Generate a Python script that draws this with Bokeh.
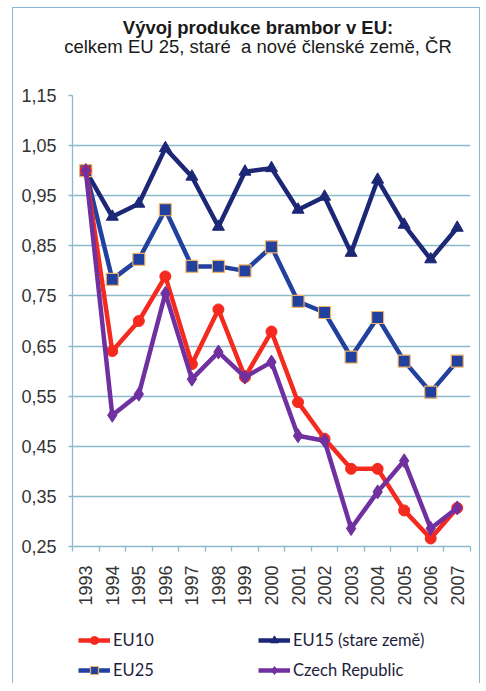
import math
from bokeh.plotting import figure
from bokeh.layouts import column
from bokeh.models import (FixedTicker, CustomJSTickFormatter, Div, Legend,
                          LegendItem, Range1d)
from bokeh.embed import file_html
from bokeh.resources import INLINE

# ---- data ----
years = [1993, 1994, 1995, 1996, 1997, 1998, 1999, 2000,
         2001, 2002, 2003, 2004, 2005, 2006, 2007]
eu10 = [1.000, 0.640, 0.700, 0.789, 0.614, 0.723, 0.588, 0.679,
        0.538, 0.465, 0.405, 0.405, 0.322, 0.266, 0.327]
eu15 = [1.000, 0.908, 0.934, 1.045, 0.988, 0.888, 0.998, 1.005,
        0.922, 0.948, 0.836, 0.982, 0.892, 0.823, 0.886]
eu25 = [1.000, 0.783, 0.823, 0.922, 0.809, 0.809, 0.800, 0.848,
        0.739, 0.717, 0.628, 0.707, 0.620, 0.558, 0.620]
czech = [1.000, 0.512, 0.554, 0.755, 0.584, 0.638, 0.588, 0.618,
         0.471, 0.461, 0.286, 0.359, 0.421, 0.286, 0.327]
y_ticks = [0.25, 0.35, 0.45, 0.55, 0.65, 0.75, 0.85, 0.95, 1.05, 1.15]
labels = ["EU10", "EU15 (stare země)", "EU25", "Czech Republic"]
title_1 = "Vývoj produkce brambor v EU:"
title_2 = "celkem EU 25, staré&nbsp; a nové členské země, ČR"

C10 = "#F52A1E"
C15 = "#1C2776"
C25 = "#22409E"
CCZ = "#7030A0"
C25_EDGE = "#F2B266"
GRID = "#8DB9CC"
TXT = "#333333"
FRAME = "#8AB6D6"

W = 466

# ---------------- header with the two title lines ----------------
line_css = ("position:absolute;left:0;width:490px;text-align:center;"
            "font-family:'Liberation Sans',Arial,sans-serif;font-size:18.5px;"
            "line-height:20px;color:#1A1A1A;white-space:nowrap;")
head = Div(text=(
    '<div style="position:relative;width:%dpx;height:75px;">' % W
    + '<div style="%stop:10px;font-weight:bold;">%s</div>' % (line_css, title_1)
    + '<div style="%stop:29px;font-weight:normal;">%s</div>' % (line_css, title_2)
    + '</div>'), width=W, height=75, margin=0)

# ---------------- main chart ----------------
p = figure(width=W, height=525,
           x_range=Range1d(years[0] - 0.5, years[-1] + 0.5),
           y_range=Range1d(y_ticks[0], y_ticks[-1]),
           output_backend="svg", toolbar_location=None,
           min_border_left=59, min_border_right=9,
           min_border_top=12, min_border_bottom=60)
p.outline_line_color = None

p.xgrid.visible = False
p.ygrid.grid_line_color = GRID
p.ygrid.grid_line_width = 1.3

p.xaxis.ticker = FixedTicker(ticks=years,
                             minor_ticks=[y - 0.5 for y in years] + [years[-1] + 0.5])
p.xaxis.formatter = CustomJSTickFormatter(code="return tick.toFixed(0)")
p.xaxis.major_label_orientation = math.pi / 2
p.xaxis.major_tick_line_color = None
p.xaxis.minor_tick_line_color = GRID
p.xaxis.minor_tick_line_width = 1.3
p.xaxis.minor_tick_out = 5
p.xaxis.minor_tick_in = 0
p.xaxis.major_label_standoff = 13

p.yaxis.ticker = FixedTicker(ticks=y_ticks, minor_ticks=[])
p.yaxis.formatter = CustomJSTickFormatter(code="return tick.toFixed(2).replace('.', ',')")
p.yaxis.major_tick_out = 4
p.yaxis.major_tick_in = 0
p.yaxis.major_tick_line_color = GRID
p.yaxis.major_tick_line_width = 1.3
p.yaxis.major_label_standoff = 12

for ax in (p.xaxis, p.yaxis):
    ax.axis_line_color = GRID
    ax.axis_line_width = 1.3
    ax.major_label_text_font = "Liberation Sans"
    ax.major_label_text_font_size = "18px"
    ax.major_label_text_color = TXT

STY = {
    "EU15": dict(line=dict(line_color=C15, line_width=4.5),
                 mark=dict(marker="triangle", size=12, fill_color=C15, line_color=C15)),
    "EU25": dict(line=dict(line_color=C25, line_width=4.5),
                 mark=dict(marker="square", size=12, fill_color=C25,
                           line_color=C25_EDGE, line_width=1.2)),
    "EU10": dict(line=dict(line_color=C10, line_width=4.5),
                 mark=dict(marker="circle", size=11, fill_color=C10, line_color=C10)),
    "CZ": dict(line=dict(line_color=CCZ, line_width=4.5),
               mark=dict(marker="diamond", size=14, fill_color=CCZ, line_color=CCZ)),
}
series = [("EU15", eu15), ("EU25", eu25), ("EU10", eu10), ("CZ", czech)]
for key, vals in series:
    p.line(years, vals, **STY[key]["line"])
    p.scatter(years, vals, **STY[key]["mark"])

# ---------------- legend strip ----------------
# the same series are plotted here outside the visible range; only their
# legend samples show
lg = figure(width=W, height=75, output_backend="svg", toolbar_location=None,
            x_axis_type=None, y_axis_type=None,
            x_range=Range1d(0, 1), y_range=Range1d(0, 1),
            min_border_left=0, min_border_right=0,
            min_border_top=0, min_border_bottom=0)
lg.grid.visible = False
lg.outline_line_color = None
rend = {}
for key, vals in series:
    rl = lg.line(years, vals, **STY[key]["line"])
    rm = lg.scatter(years, vals, **STY[key]["mark"])
    rend[key] = [rl, rm]

def make_legend(items, loc):
    return Legend(items=items, location=loc, orientation="vertical",
                  padding=0, margin=0, spacing=10,
                  glyph_width=32, glyph_height=20, label_height=20,
                  label_standoff=3, label_text_font="Lato",
                  label_text_font_size="16.5px", label_text_color="#1E1E3C",
                  border_line_color=None, background_fill_alpha=0)

lg.add_layout(make_legend([LegendItem(label=labels[0], renderers=rend["EU10"]),
                           LegendItem(label=labels[2], renderers=rend["EU25"])], (6, 3)))
lg.add_layout(make_legend([LegendItem(label=labels[1], renderers=rend["EU15"]),
                           LegendItem(label=labels[3], renderers=rend["CZ"])], (186, 3)))

layout = column(head, p, lg, spacing=0)
layout.margin = (7, 0, 0, 12)
layout.styles = {"border-left": "1px solid " + FRAME,
                 "border-top": "1px solid " + FRAME,
                 "border-right": "1px solid " + FRAME}

open("out.html", "w").write(file_html(layout, INLINE))
